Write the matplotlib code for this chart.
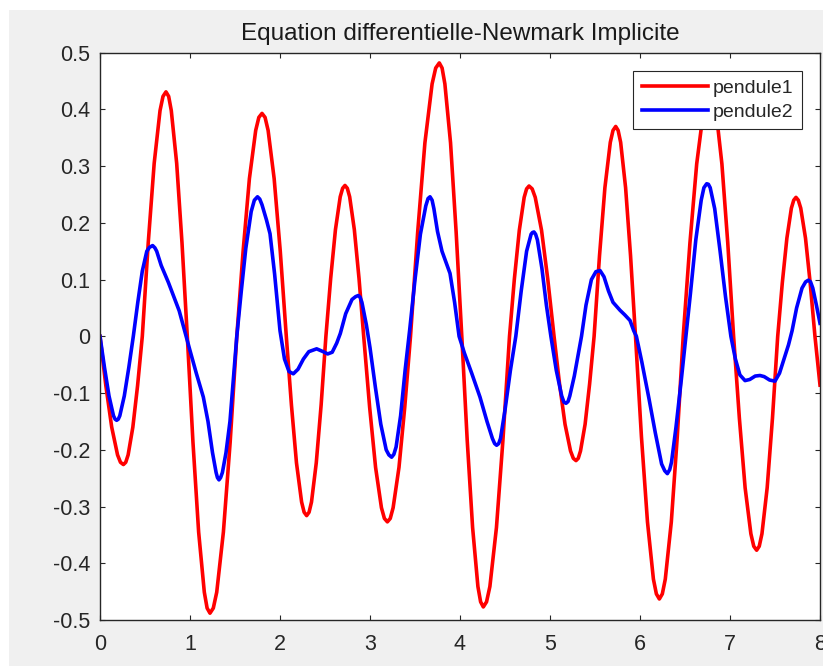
import matplotlib
matplotlib.use("Agg")
import matplotlib.pyplot as plt
from matplotlib.patches import Rectangle

# Valeurs : temps (s) et angle des deux pendules
t_pendule1 = [0, 0.065, 0.13, 0.195, 0.2275, 0.26, 0.286, 0.3125, 0.365, 0.4175, 0.47,
              0.536, 0.602, 0.667, 0.700, 0.733, 0.763, 0.792, 0.852, 0.911, 0.97,
              1.033, 1.096, 1.159, 1.190, 1.222, 1.259, 1.297, 1.371, 1.446, 1.52,
              1.59, 1.66, 1.73, 1.765, 1.80, 1.834, 1.868, 1.935, 2.003, 2.07,
              2.127, 2.183, 2.24, 2.268, 2.296, 2.323, 2.35, 2.403, 2.457, 2.51,
              2.563, 2.616, 2.669, 2.696, 2.722, 2.748, 2.774, 2.826, 2.878, 2.93,
              2.996, 3.062, 3.127, 3.160, 3.193, 3.225, 3.257, 3.322, 3.386, 3.45,
              3.53, 3.61, 3.69, 3.73, 3.77, 3.801, 3.832, 3.895, 3.957, 4.02,
              4.08, 4.14, 4.199, 4.229, 4.259, 4.295, 4.332, 4.405, 4.477, 4.55,
              4.604, 4.659, 4.713, 4.740, 4.767, 4.802, 4.836, 4.906, 4.975, 5.045,
              5.106, 5.167, 5.228, 5.259, 5.289, 5.314, 5.339, 5.39, 5.44, 5.49,
              5.55, 5.61, 5.67, 5.70, 5.73, 5.757, 5.785, 5.84, 5.895, 5.95,
              6.016, 6.083, 6.149, 6.182, 6.215, 6.248, 6.281, 6.348, 6.414, 6.48,
              6.555, 6.63, 6.705, 6.742, 6.78, 6.812, 6.845, 6.91, 6.975, 7.04,
              7.104, 7.168, 7.232, 7.264, 7.296, 7.325, 7.355, 7.413, 7.472, 7.53,
              7.581, 7.632, 7.682, 7.708, 7.733, 7.759, 7.786, 7.839, 7.891, 7.944, 8.0]
pendule1 = [0, -0.087, -0.160, -0.209, -0.222, -0.226, -0.222, -0.209, -0.160, -0.087, 0,
            0.165, 0.305, 0.398, 0.423, 0.431, 0.423, 0.398, 0.305, 0.165, 0,
            -0.187, -0.345, -0.451, -0.479, -0.488, -0.479, -0.451, -0.345, -0.187, 0,
            0.150, 0.278, 0.363, 0.386, 0.393, 0.386, 0.363, 0.278, 0.150, 0,
            -0.121, -0.223, -0.292, -0.310, -0.316, -0.310, -0.292, -0.223, -0.121, 0,
            0.102, 0.188, 0.246, 0.261, 0.266, 0.261, 0.246, 0.188, 0.102, 0,
            -0.125, -0.231, -0.302, -0.321, -0.327, -0.321, -0.302, -0.231, -0.125, 0,
            0.184, 0.341, 0.445, 0.473, 0.482, 0.473, 0.445, 0.341, 0.184, 0,
            -0.183, -0.337, -0.441, -0.468, -0.477, -0.468, -0.441, -0.337, -0.183, 0,
            0.101, 0.187, 0.245, 0.260, 0.265, 0.260, 0.245, 0.187, 0.101, 0,
            -0.084, -0.155, -0.202, -0.215, -0.219, -0.215, -0.202, -0.155, -0.084, 0,
            0.142, 0.262, 0.342, 0.363, 0.370, 0.363, 0.342, 0.262, 0.142, 0,
            -0.177, -0.327, -0.428, -0.454, -0.463, -0.454, -0.428, -0.327, -0.177, 0,
            0.165, 0.304, 0.397, 0.422, 0.430, 0.422, 0.397, 0.304, 0.165, 0,
            -0.144, -0.267, -0.348, -0.370, -0.377, -0.370, -0.348, -0.267, -0.144, 0,
            0.094, 0.173, 0.226, 0.240, 0.245, 0.240, 0.226, 0.173, 0.094, 0, -0.086]

t_pendule2 = [0.0, 0.05, 0.1, 0.15, 0.168, 0.185, 0.203, 0.22, 0.27, 0.32, 0.37, 0.42,
              0.47, 0.52, 0.55, 0.585, 0.61, 0.63, 0.68, 0.76, 0.82, 0.88, 0.94, 1.0,
              1.07, 1.148, 1.2, 1.25, 1.29, 1.305, 1.322, 1.34, 1.36, 1.40, 1.444, 1.48,
              1.52, 1.57, 1.62, 1.68, 1.715, 1.75, 1.775, 1.80, 1.85, 1.889, 1.94, 2.0,
              2.05, 2.10, 2.148, 2.2, 2.26, 2.32, 2.407, 2.48, 2.53, 2.58,
              2.63, 2.67, 2.73, 2.80, 2.84, 2.87, 2.89, 2.91, 2.96, 3.0, 3.06, 3.12,
              3.18, 3.21, 3.24, 3.265, 3.29, 3.34, 3.39, 3.44, 3.50, 3.56, 3.62, 3.645, 3.667, 3.69,
              3.71, 3.75, 3.80, 3.85, 3.889, 3.94, 3.99, 4.05, 4.13, 4.222,
              4.30, 4.36, 4.385, 4.407, 4.43, 4.45, 4.50, 4.56, 4.62, 4.68, 4.74, 4.79,
              4.805, 4.822, 4.84, 4.86, 4.91, 4.96, 5.01, 5.07, 5.13, 5.155, 5.178, 5.20, 5.22, 5.27,
              5.31, 5.35, 5.40, 5.46, 5.51, 5.556, 5.60, 5.65, 5.70, 5.778,
              5.83, 5.889, 5.93, 5.96, 6.02, 6.10, 6.17, 6.24, 6.275, 6.304, 6.33, 6.35,
              6.40, 6.46, 6.51, 6.56, 6.62, 6.68, 6.71, 6.741, 6.76, 6.78, 6.83, 6.89,
              6.95, 7.01, 7.06, 7.11, 7.167, 7.22, 7.28, 7.333, 7.38, 7.44,
              7.5, 7.55, 7.60, 7.65, 7.69, 7.74, 7.80, 7.84, 7.87, 7.895, 7.92, 7.96, 8.0]
pendule2 = [0.0, -0.055, -0.105, -0.140, -0.146, -0.148, -0.146, -0.140, -0.105, -0.055, 0.0, 0.060,
            0.115, 0.150, 0.157, 0.160, 0.156, 0.150, 0.125, 0.095, 0.070, 0.045, 0.010, -0.025,
            -0.065, -0.107, -0.150, -0.205, -0.240, -0.249, -0.253, -0.249, -0.240, -0.205, -0.150, -0.080,
            0.0, 0.080, 0.155, 0.220, 0.240, 0.246, 0.242, 0.232, 0.205, 0.181, 0.110, 0.010,
            -0.040, -0.062, -0.066, -0.058, -0.040, -0.027, -0.022, -0.027, -0.031, -0.028,
            -0.012, 0.005, 0.040, 0.065, 0.070, 0.072, 0.069, 0.060, 0.020, -0.020, -0.090, -0.155,
            -0.200, -0.209, -0.213, -0.208, -0.195, -0.140, -0.060, 0.010, 0.100, 0.180, 0.230, 0.243, 0.246, 0.240,
            0.225, 0.185, 0.150, 0.128, 0.111, 0.060, 0.0, -0.030, -0.065, -0.107,
            -0.150, -0.180, -0.189, -0.192, -0.189, -0.180, -0.130, -0.060, 0.0, 0.080, 0.150, 0.180,
            0.183, 0.184, 0.180, 0.170, 0.120, 0.055, 0.0, -0.060, -0.105, -0.116, -0.118, -0.115, -0.105, -0.070,
            -0.035, 0.0, 0.055, 0.100, 0.114, 0.116, 0.105, 0.080, 0.060, 0.046,
            0.038, 0.028, 0.010, 0.0, -0.045, -0.110, -0.170, -0.225, -0.237, -0.242, -0.235, -0.222,
            -0.160, -0.075, 0.0, 0.075, 0.170, 0.240, 0.262, 0.269, 0.268, 0.262, 0.225, 0.150,
            0.070, 0.0, -0.040, -0.068, -0.078, -0.076, -0.070, -0.069, -0.071, -0.077,
            -0.079, -0.065, -0.040, -0.015, 0.010, 0.050, 0.085, 0.096, 0.099, 0.096, 0.085, 0.055, 0.023]

x_ticks = [0, 1, 2, 3, 4, 5, 6, 7, 8]
y_ticks = [-0.5, -0.4, -0.3, -0.2, -0.1, 0, 0.1, 0.2, 0.3, 0.4, 0.5]
y_tick_labels = ["-0.5", "-0.4", "-0.3", "-0.2", "-0.1", "0",
                 "0.1", "0.2", "0.3", "0.4", "0.5"]

TEXT = "#262626"


def make_plot():
    plt.rcParams['font.family'] = ['Liberation Sans', 'DejaVu Sans']
    plt.rcParams['axes.unicode_minus'] = False

    fig = plt.figure(figsize=(8.23, 6.66), dpi=100, facecolor="white")
    # fond gris de la fenetre matlab (bande blanche en haut et a gauche)
    fig.patches.append(Rectangle((9 / 823, 0), 1, 656 / 666, transform=fig.transFigure,
                                 facecolor="#f0f0f0", edgecolor="none", zorder=-10))

    ax = fig.add_axes([100 / 823, 46 / 666, 720 / 823, 567.3 / 666])
    ax.plot(t_pendule1, pendule1, color=(1, 0, 0), linewidth=2.6,
            solid_joinstyle='round', label='pendule1')
    ax.plot(t_pendule2, pendule2, color=(0, 0, 1), linewidth=2.6,
            solid_joinstyle='round', label='pendule2')

    ax.set_xlim(0, 8)
    ax.set_ylim(-0.5, 0.5)
    ax.set_xticks(x_ticks)
    ax.set_xticklabels([str(v) for v in x_ticks])
    ax.set_yticks(y_ticks)
    ax.set_yticklabels(y_tick_labels)

    for s in ax.spines.values():
        s.set_color(TEXT)
        s.set_linewidth(1.0)
    ax.tick_params(axis='both', direction='in', length=3.6, width=0.8, color=TEXT,
                   labelcolor=TEXT, labelsize=15.5, top=True, right=True)
    ax.tick_params(axis='x', pad=10)
    ax.tick_params(axis='y', pad=7)

    ax.set_title('Equation differentielle-Newmark Implicite', fontsize=17.5,
                 color="#1a1a1a", pad=9)

    leg = ax.legend(loc='upper right', bbox_to_anchor=(0.975, 0.968), fontsize=14,
                    fancybox=False, framealpha=1, edgecolor=TEXT, borderpad=0.45,
                    labelspacing=0.3, handlelength=3.4, handletextpad=0.25,
                    borderaxespad=0)
    leg.get_frame().set_linewidth(0.8)
    for txt in leg.get_texts():
        txt.set_color(TEXT)

    fig.savefig('out.png', dpi=100, facecolor=fig.get_facecolor())


if __name__ == '__main__':
    make_plot()
